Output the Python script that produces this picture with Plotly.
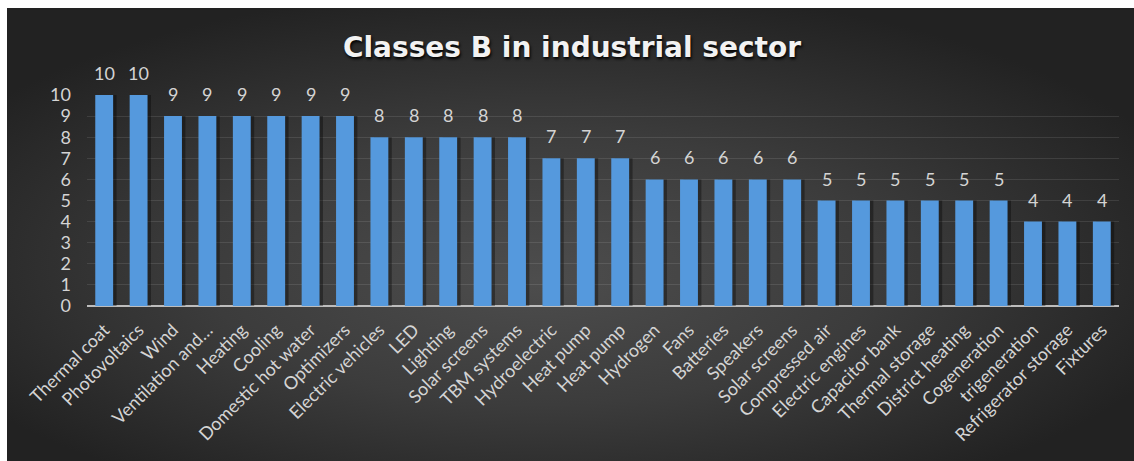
import base64
import plotly.graph_objects as go

# Scores per measure (class B, industrial sector)
categories = [
    "Thermal coat", "Photovoltaics", "Wind", "Ventilation and…", "Heating",
    "Cooling", "Domestic hot water", "Optimizers", "Electric vehicles", "LED",
    "Lighting", "Solar screens", "TBM systems", "Hydroelectric", "Heat pump",
    "Heat pump", "Hydrogen", "Fans", "Batteries", "Speakers",
    "Solar screens", "Compressed air", "Electric engines", "Capacitor bank",
    "Thermal storage", "District heating", "Cogeneration", "trigeneration",
    "Refrigerator storage", "Fixtures",
]
values = [10, 10, 9, 9, 9, 9, 9, 9, 8, 8,
          8, 8, 8, 7, 7, 7, 6, 6, 6, 6,
          6, 5, 5, 5, 5, 5, 5, 4, 4, 4]
y_ticks = list(range(0, 11))

W, H = 1134, 461
L, R, T, B = 87, 15, 95, 155
plot_w, plot_h = W - L - R, H - T - B

positions = list(range(len(categories)))

# Dark radial backdrop for the chart area
svg = (
    '<svg xmlns="http://www.w3.org/2000/svg" width="1127" height="453" '
    'viewBox="0 0 100 100" preserveAspectRatio="none">'
    '<defs><radialGradient id="g" cx="0.48" cy="0.55" r="0.6" fx="0.47" fy="0.6">'
    '<stop offset="0" stop-color="#4d4d4d"/>'
    '<stop offset="0.5" stop-color="#3c3c3c"/>'
    '<stop offset="1" stop-color="#222222"/>'
    '</radialGradient></defs>'
    '<rect x="0" y="0" width="100" height="100" fill="url(#g)"/></svg>'
)
bg_uri = "data:image/svg+xml;base64," + base64.b64encode(svg.encode()).decode()

bar_w = 0.52
fig = go.Figure()

# soft drop shadow beneath each bar
fig.add_trace(go.Bar(
    x=positions, y=values, width=bar_w, offset=-bar_w / 2 + 0.1,
    marker=dict(color="rgba(0,0,0,0.35)", line=dict(width=0)),
    hoverinfo="skip", showlegend=False,
))
fig.add_trace(go.Bar(
    x=positions, y=values, width=bar_w, offset=-bar_w / 2,
    marker=dict(color="#5599dd", line=dict(width=0)),
    showlegend=False,
))

for xp, v in zip(positions, values):
    fig.add_annotation(
        x=xp, y=v, text=str(v), showarrow=False, yshift=22,
        font=dict(family="Lato, Open Sans, sans-serif", size=18, color="#d4d4d4"),
    )

fig.add_layout_image(dict(
    source=bg_uri, xref="paper", yref="paper",
    x=(7 - L) / plot_w, y=(H - B - 8) / plot_h,
    sizex=(W - 7) / plot_w, sizey=(H - 8) / plot_h,
    xanchor="left", yanchor="top", sizing="stretch", layer="below",
))

fig.update_layout(
    width=W, height=H,
    margin=dict(l=L, r=R, t=T, b=B, pad=0),
    paper_bgcolor="white",
    plot_bgcolor="rgba(0,0,0,0)",
    barmode="overlay",
    title=dict(
        text="Classes B in industrial sector",
        x=572 / W, xref="container", xanchor="center",
        y=1 - 47 / H, yref="container", yanchor="middle",
        font=dict(family="DejaVu Sans, sans-serif", size=28, color="#f2f2f2",
                  weight="bold", shadow="1px 2px 3px #000000"),
    ),
    xaxis=dict(
        range=[-0.5, len(categories) - 0.5],
        tickmode="array", tickvals=positions, ticktext=categories,
        tickangle=-45, showgrid=False, zeroline=False,
        showline=False, ticks="", ticklabelstandoff=9,
        tickfont=dict(family="Lato, Open Sans, sans-serif", size=18, color="#d4d4d4"),
    ),
    yaxis=dict(
        range=[0, 10], tickmode="array", tickvals=y_ticks,
        showgrid=True, gridcolor="rgba(255,255,255,0.10)", gridwidth=1,
        zeroline=True, zerolinecolor="#bdbdbd", zerolinewidth=2,
        showline=False, ticks="", ticklabelstandoff=15,
        tickfont=dict(family="Lato, Open Sans, sans-serif", size=18, color="#d4d4d4"),
    ),
)

fig.write_html("out.html")
